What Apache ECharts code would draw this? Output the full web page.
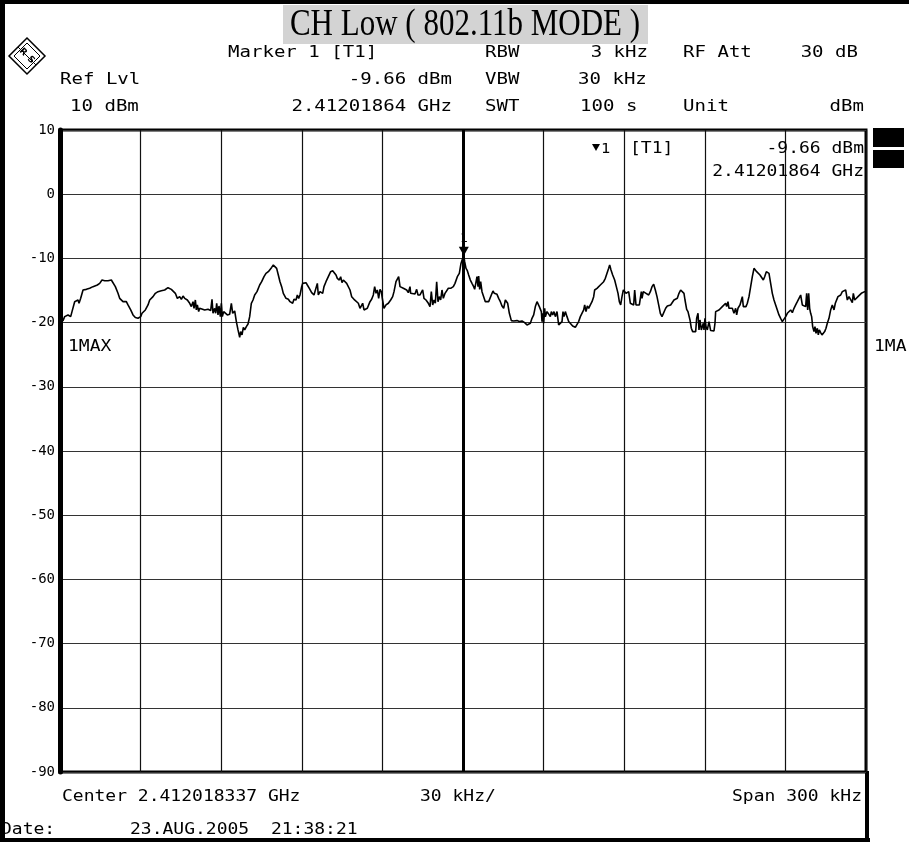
<!DOCTYPE html>
<html><head><meta charset="utf-8">
<script src="https://cdn.jsdelivr.net/npm/echarts@6/dist/echarts.min.js"></script>
<style>html,body{margin:0;padding:0;background:#fff}#c{width:909px;height:842px}</style>
</head><body><div id="c"></div>
<script>
// Frequency offset from centre (kHz) and level (dBm)
const trace = [
[-150,-19.6],[-148.88,-19.69],[-148.26,-19.07],[-147.64,-19.33],[-147.02,-18.81],[-146.40,-18.55],[-146.03,-19.07],[-145.53,-18.29],[-144.79,-18.03],[-144.54,-16.74],[-143.92,-16.48],[-143.30,-16.48],[-142.92,-16.99],[-142.30,-16.22],[-141.43,-14.92],[-140.81,-14.82],[-140.19,-14.82],[-138.95,-14.66],[-138.33,-14.92],[-137.71,-14.40],[-137.09,-14.66],[-136.10,-14.14],[-135.23,-13.89],[-134.36,-13.37],[-133.37,-13.47],[-132.13,-13.47],[-130.89,-13.37],[-130.27,-13.63],[-129.40,-14.40],[-128.41,-15.44],[-127.79,-16.22],[-126.55,-16.74],[-125.93,-16.89],[-125.31,-16.74],[-124.69,-17.25],[-123.69,-18.03],[-122.82,-18.81],[-121.96,-19.22],[-120.96,-19.33],[-119.97,-19.07],[-119.47,-18.55],[-118.73,-18.81],[-118.23,-18.03],[-117.24,-17.25],[-116.62,-16.48],[-116.00,-16.37],[-115.38,-15.96],[-114.51,-15.44],[-113.52,-15.18],[-112.28,-15.03],[-111.66,-15.18],[-111.04,-14.92],[-110.42,-15.18],[-109.80,-14.56],[-109.18,-14.66],[-108.56,-14.82],[-107.94,-14.66],[-107.07,-15.44],[-106.32,-16.22],[-105.46,-15.96],[-104.83,-16.37],[-104.21,-15.86],[-103.59,-16.22],[-102.60,-16.48],[-101.73,-16.99],[-101.11,-17.51],[-100.49,-16.74],[-100.12,-17.77],[-99.62,-16.48],[-99.25,-18.03],[-98.88,-17.25],[-98.38,-18.29],[-98.01,-17.77],[-97.39,-17.93],[-96.15,-18.03],[-94.91,-17.93],[-93.92,-18.13],[-93.42,-16.37],[-93.05,-18.55],[-92.43,-17.77],[-92.06,-18.55],[-91.68,-16.99],[-91.19,-18.81],[-90.82,-17.41],[-90.32,-19.07],[-89.95,-16.99],[-89.58,-19.07],[-89.08,-18.29],[-88.46,-18.55],[-87.71,-18.81],[-86.85,-18.70],[-86.22,-16.99],[-85.73,-18.55],[-84.98,-18.19],[-84.36,-19.84],[-83.74,-21.14],[-83.12,-22.28],[-82.75,-21.40],[-82.25,-21.92],[-81.76,-20.73],[-81.26,-21.14],[-80.64,-20.62],[-80.02,-20.21],[-79.40,-19.07],[-78.78,-16.99],[-78.16,-16.48],[-77.54,-15.70],[-76.67,-15.18],[-75.68,-14.14],
[-74.94,-13.63],[-74.07,-12.85],[-73.33,-12.33],[-72.46,-12.07],[-71.84,-11.81],[-71.22,-11.40],[-70.60,-11.04],[-69.98,-10.88],[-69.36,-11.55],[-68.74,-12.59],[-68.12,-13.63],[-67.50,-14.40],[-66.88,-15.44],[-65.88,-16.22],[-65.01,-16.37],[-64.39,-16.74],[-63.77,-16.48],[-63.40,-16.99],[-62.91,-16.37],[-62.16,-16.48],[-61.66,-15.70],[-61.17,-16.22],[-60.67,-15.70],[-60.05,-14.40],[-59.68,-13.89],[-59.06,-14.14],[-58.44,-13.78],[-57.94,-14.14],[-57.20,-14.66],[-56.33,-15.34],[-55.46,-15.70],[-54.72,-15.44],[-54.22,-13.89],[-53.85,-15.70],[-53.23,-15.18],[-52.61,-14.92],[-52.23,-15.44],[-51.74,-14.40],[-51.00,-13.63],[-50.13,-12.85],[-49.26,-12.07],[-48.51,-11.92],[-48.02,-12.07],[-47.27,-12.59],[-46.78,-13.11],[-46.03,-13.37],[-45.54,-12.85],[-45.04,-13.78],[-44.54,-13.37],[-43.92,-13.63],[-43.30,-13.89],[-42.68,-14.14],[-42.06,-14.92],[-41.44,-15.96],[-40.57,-16.37],[-39.83,-16.48],[-38.96,-16.99],[-38.34,-17.77],[-37.72,-17.93],[-37.35,-16.99],[-36.85,-18.03],[-36.11,-17.93],[-35.61,-17.77],[-35.11,-17.51],[-34.62,-16.74],[-34.00,-16.37],[-33.38,-15.70],[-32.88,-14.40],[-32.38,-15.44],[-31.89,-14.92],[-31.39,-16.22],[-30.89,-14.82],[-30.40,-15.18],[-30.03,-16.22],[-29.41,-17.77],[-28.66,-17.25],[-27.79,-16.99],[-26.92,-16.48],[-26.18,-15.96],[-25.68,-15.18],[-24.94,-13.63],[-24.44,-13.89],[-23.95,-12.85],[-23.45,-14.40],[-22.83,-14.30],[-22.21,-14.66],[-21.59,-14.82],[-20.97,-14.92],[-20.35,-15.34],[-19.73,-14.40],[-19.48,-15.44],[-18.74,-15.34],[-17.87,-15.54],[-17.25,-14.82],[-16.75,-15.70],[-16.00,-15.70],[-15.38,-15.96],[-15.01,-14.92],[-14.52,-16.22],[-13.77,-16.48],[-12.90,-16.99],[-12.28,-17.51],[-11.79,-15.18],[-11.29,-17.25],[-10.79,-16.48],[-10.30,-16.99],[-9.80,-13.63],[-9.31,-16.74],[-8.81,-15.96],[-8.31,-16.48],[-7.82,-14.92],[-7.32,-16.22],[-6.70,-15.44],[-6.08,-15.18],[-5.46,-14.66],[-4.59,-14.66],[-3.60,-14.40],[-2.98,-13.89],[-2.11,-12.85],[-1.37,-12.33],[-0.75,-10.78],[-0.13,-10.00],[0.30,-9.66],
[0.62,-10.52],[1.12,-11.55],[1.62,-11.92],[2.11,-12.59],[2.73,-13.37],[3.35,-13.89],[3.97,-14.40],[4.34,-14.82],[4.84,-14.92],[5.21,-12.85],[5.59,-14.40],[5.83,-12.75],[6.21,-14.82],[6.58,-13.63],[7.07,-15.18],[7.70,-15.44],[8.31,-16.74],[8.94,-16.74],[9.56,-16.74],[10.18,-16.48],[10.80,-15.44],[11.17,-15.08],[11.66,-15.44],[12.04,-15.70],[12.66,-15.60],[13.28,-16.22],[13.90,-16.74],[14.52,-17.41],[15.14,-17.77],[15.76,-16.48],[16.13,-16.22],[16.63,-16.99],[17.25,-18.55],[17.99,-19.69],[18.86,-19.74],[20.10,-19.69],[20.97,-19.84],[21.96,-19.74],[22.95,-20.00],[23.82,-20.36],[24.44,-20.52],[25.07,-20.10],[25.68,-19.33],[26.31,-18.81],[26.93,-17.51],[27.55,-16.74],[27.92,-16.48],[28.41,-17.51],[28.79,-17.25],[29.16,-18.29],[29.41,-19.84],[29.65,-18.55],[30.03,-20.10],[30.40,-17.77],[30.65,-19.07],[31.27,-18.29],[31.89,-18.55],[32.51,-19.07],[32.88,-18.29],[33.38,-18.81],[33.87,-18.29],[34.37,-19.07],[34.99,-18.29],[35.61,-20.36],[36.23,-20.52],[36.85,-19.84],[37.22,-18.29],[37.60,-19.07],[38.09,-18.29],[38.71,-19.07],[39.33,-19.84],[39.95,-20.00],[40.82,-20.52],[41.81,-20.73],[42.43,-20.62],[43.05,-19.84],[43.68,-19.07],[44.30,-18.81],[44.92,-18.03],[45.29,-17.25],[45.78,-18.29],[46.28,-17.41],[46.78,-17.77],[47.40,-17.25],[48.02,-16.74],[48.64,-15.96],[49.01,-14.92],[49.51,-15.18],[49.88,-14.66],[50.50,-14.40],[51.12,-14.14],[51.74,-13.89],[52.36,-13.63],[52.98,-13.11],[53.60,-12.33],[54.22,-11.55],[54.59,-11.04],[55.09,-11.81],[55.71,-12.59],[56.45,-13.37],[57.07,-14.40],[57.70,-15.44],[58.19,-16.74],[58.69,-17.25],[59.18,-15.96],[59.68,-14.92],[60.18,-14.66],[60.67,-15.44],[61.17,-15.70],[61.67,-15.18],[62.29,-16.99],[62.91,-16.74],[63.53,-17.25],[63.90,-14.92],[64.39,-17.25],[65.01,-16.99],[65.64,-17.25],[66.38,-15.18],[66.63,-16.22],[67.12,-15.18],[67.62,-14.92],[68.12,-15.44],[68.61,-15.18],[69.11,-15.70],[69.73,-15.18],[70.35,-14.40],[70.97,-14.04],[71.59,-14.92],[72.21,-15.96],[72.83,-17.25],[73.45,-18.55],[74.07,-19.07],[74.70,-18.96],
[75.43,-17.77],[76.05,-17.41],[76.67,-17.62],[77.29,-17.25],[77.91,-17.51],[78.53,-16.48],[79.15,-16.74],[79.77,-16.22],[80.39,-15.44],[81.01,-14.92],[81.63,-14.82],[82.25,-15.44],[82.63,-16.48],[83.25,-17.93],[83.74,-18.29],[84.49,-19.59],[84.98,-20.88],[85.48,-21.40],[85.98,-21.14],[86.60,-21.40],[86.97,-19.33],[87.47,-18.55],[87.84,-21.14],[88.21,-19.59],[88.71,-21.14],[89.08,-20.88],[89.45,-20.10],[89.70,-21.14],[90.07,-19.33],[90.44,-20.62],[90.94,-21.14],[91.56,-19.84],[92.18,-21.24],[92.80,-21.30],[93.42,-21.30],[93.79,-20.10],[94.04,-18.29],[94.66,-18.29],[95.28,-18.03],[95.90,-17.77],[96.52,-17.51],[97.14,-17.25],[97.76,-16.99],[98.14,-17.51],[98.63,-16.74],[99.00,-17.77],[99.62,-18.03],[100.24,-17.77],[100.86,-18.55],[101.48,-17.77],[101.86,-18.81],[102.35,-17.77],[103.10,-17.25],[103.59,-17.51],[103.97,-15.96],[104.34,-17.51],[104.83,-17.25],[105.33,-17.51],[105.83,-16.99],[106.45,-15.96],[107.07,-14.40],[107.69,-12.85],[108.31,-11.55],[108.81,-11.30],[109.30,-12.07],[109.80,-12.33],[110.54,-12.59],[111.16,-12.85],[111.78,-13.37],[112.28,-12.85],[112.90,-12.07],[113.52,-11.81],[113.89,-12.33],[114.51,-13.89],[115.13,-15.44],[115.75,-16.48],[116.37,-17.25],[116.99,-18.03],[117.61,-18.81],[118.23,-19.33],[118.86,-19.84],[119.48,-19.59],[120.10,-19.07],[120.72,-18.55],[121.34,-18.29],[121.96,-18.03],[122.58,-18.45],[123.20,-17.77],[123.82,-17.25],[124.44,-16.74],[125.06,-16.22],[125.68,-15.70],[126.30,-17.25],[126.92,-16.99],[127.54,-17.51],[127.91,-15.44],[128.29,-18.03],[128.66,-15.44],[129.03,-17.77],[129.40,-18.55],[129.77,-19.07],[130.15,-20.62],[130.64,-21.40],[131.01,-20.62],[131.39,-21.66],[131.88,-20.88],[132.25,-21.92],[132.63,-21.14],[133.12,-21.55],[133.62,-21.92],[134.12,-21.92],[134.61,-21.40],[135.11,-20.88],[135.60,-20.10],[136.22,-19.33],[136.85,-18.03],[137.46,-17.25],[138.09,-18.03],[138.58,-16.99],[139.08,-17.25],[139.57,-15.96],[140.07,-15.70],[140.57,-15.70],[141.19,-15.18],[141.81,-15.44],[142.43,-14.92],[143.05,-16.48],[143.67,-15.96],[144.29,-16.22],[144.91,-16.89],[145.28,-15.44],[145.78,-16.48],[146.40,-16.22],[147.02,-15.96],[147.64,-16.11],[148.26,-15.44],[148.88,-15.70],[149.50,-15.18],[150,-15.3]
];
const marker = [0.30, -9.66];
const xMin = -150, xMax = 150, xStep = 30;
const yMin = -90, yMax = 10, yStep = 10;
const title = 'CH Low ( 802.11b MODE )';
const header = [
  ['Marker 1 [T1]', 228, 53, 'left'], ['RBW', 485, 53, 'left'], ['3 kHz', 648, 53, 'right'], ['RF Att', 683, 53, 'left'], ['30 dB', 858, 53, 'right'],
  ['Ref Lvl', 60, 80, 'left'], ['-9.66 dBm', 452, 80, 'right'], ['VBW', 485, 80, 'left'], ['30 kHz', 578, 80, 'left'],
  ['10 dBm', 70, 107, 'left'], ['2.41201864 GHz', 452, 107, 'right'], ['SWT', 485, 107, 'left'], ['100 s', 580, 107, 'left'], ['Unit', 683, 107, 'left'], ['dBm', 864, 107, 'right']
];
const plotTexts = [
  ['[T1]', 630, 149, 'left'], ['-9.66 dBm', 864, 149, 'right'], ['2.41201864 GHz', 864, 172, 'right'],
  ['1MAX', 68, 347, 'left'], ['1MA', 874, 347, 'left']
];
const footer = [
  ['Center 2.412018337 GHz', 62, 797, 'left'], ['30 kHz/', 420, 797, 'left'], ['Span 300 kHz', 862, 797, 'right'],
  ['Date:', 1, 830, 'left'], ['23.AUG.2005  21:38:21', 130, 830, 'left']
];

const MONO = '"DejaVu Sans Mono", monospace';
function mtext(t, x, y, align, size, sx) {
  return { type: 'text', x: x, y: y, scaleX: sx || 1.27, z: 100,
    style: { text: t, font: (size || 15) + 'px ' + MONO, fill: '#000', align: align, verticalAlign: 'middle' } };
}
const graphics = [];
// page frame
graphics.push({ type: 'rect', shape: { x: 0, y: 0, width: 5, height: 842 }, style: { fill: '#000' } });
graphics.push({ type: 'rect', shape: { x: 0, y: 0, width: 909, height: 4 }, style: { fill: '#000' } });
graphics.push({ type: 'rect', shape: { x: 0, y: 838, width: 870, height: 4 }, style: { fill: '#000' } });
graphics.push({ type: 'rect', shape: { x: 865, y: 771, width: 4, height: 71 }, style: { fill: '#000' } });
// title
graphics.push({ type: 'rect', shape: { x: 283, y: 5, width: 365, height: 39 }, style: { fill: '#d3d3d3' } });
graphics.push({ type: 'text', x: 465, y: 25, scaleY: 1.22, style: { text: title, font: '31px "Liberation Serif", serif', fill: '#000', align: 'center', verticalAlign: 'middle' } });
// R&S logo
graphics.push({ type: 'polygon', shape: { points: [[27, 38], [45, 56], [27, 74], [9, 56]] }, style: { fill: 'none', stroke: '#000', lineWidth: 1.5 } });
graphics.push({ type: 'polygon', shape: { points: [[27, 43], [40, 56], [27, 69], [14, 56]] }, style: { fill: 'none', stroke: '#000', lineWidth: 1 } });
graphics.push({ type: 'line', shape: { x1: 18, y1: 47, x2: 36, y2: 65 }, style: { stroke: '#000', lineWidth: 1 } });
graphics.push({ type: 'text', x: 23, y: 52, rotation: -Math.PI / 4, style: { text: 'R', font: 'bold 9px "DejaVu Sans"', fill: '#000', align: 'center', verticalAlign: 'middle' } });
graphics.push({ type: 'text', x: 31, y: 60, rotation: -Math.PI / 4, style: { text: 'S', font: 'bold 9px "DejaVu Sans"', fill: '#000', align: 'center', verticalAlign: 'middle' } });
// right side boxes
graphics.push({ type: 'rect', shape: { x: 873, y: 128, width: 31, height: 19 }, style: { fill: '#000' } });
graphics.push({ type: 'rect', shape: { x: 873, y: 150, width: 31, height: 18 }, style: { fill: '#000' } });
header.forEach(h => graphics.push(mtext(h[0], h[1], h[2], h[3])));
plotTexts.forEach(h => graphics.push(mtext(h[0], h[1], h[2], h[3], 15, 1.2)));
footer.forEach(h => graphics.push(mtext(h[0], h[1], h[2], h[3], 15, 1.2)));
// marker label in the plot area
graphics.push({ type: 'polygon', z: 100, shape: { points: [[592, 144], [600, 144], [596, 151]] }, style: { fill: '#000' } });
graphics.push(mtext('1', 601, 149, 'left', 14, 1.1));

const chart = echarts.init(document.getElementById('c'), null, { renderer: 'canvas' });
chart.setOption({
  animation: false,
  backgroundColor: '#fff',
  grid: { left: 60, top: 130, width: 806, height: 642, show: true, borderColor: '#000', borderWidth: 3, backgroundColor: 'transparent' },
  xAxis: { type: 'value', min: xMin, max: xMax, interval: xStep,
    axisLine: { show: false }, axisTick: { show: false }, axisLabel: { show: false },
    splitLine: { show: true, lineStyle: { color: '#111', width: 1.2 } } },
  yAxis: { type: 'value', min: yMin, max: yMax, interval: yStep,
    axisLine: { show: true, onZero: false, lineStyle: { color: '#000', width: 5 } }, axisTick: { show: false },
    axisLabel: { show: true, color: '#000', fontSize: 14, fontFamily: MONO, margin: 5 },
    splitLine: { show: true, lineStyle: { color: '#333', width: 1.2 } } },
  graphic: graphics,
  series: [{
    type: 'line', data: trace, showSymbol: false, symbol: 'none',
    lineStyle: { color: '#000', width: 1.6 },
    markLine: { silent: true, symbol: 'none', label: { show: false },
      lineStyle: { color: '#000', width: 3, type: 'solid' }, data: [{ xAxis: 0 }] },
    markPoint: { silent: true, data: [{ coord: marker, symbol: 'triangle', symbolRotate: 180, symbolSize: [10, 9], symbolOffset: [0, -5],
      itemStyle: { color: '#000' },
      label: { show: true, formatter: '1', position: 'top', distance: 2, color: '#000', fontSize: 13, fontFamily: MONO } }] }
  }]
});
</script></body></html>
